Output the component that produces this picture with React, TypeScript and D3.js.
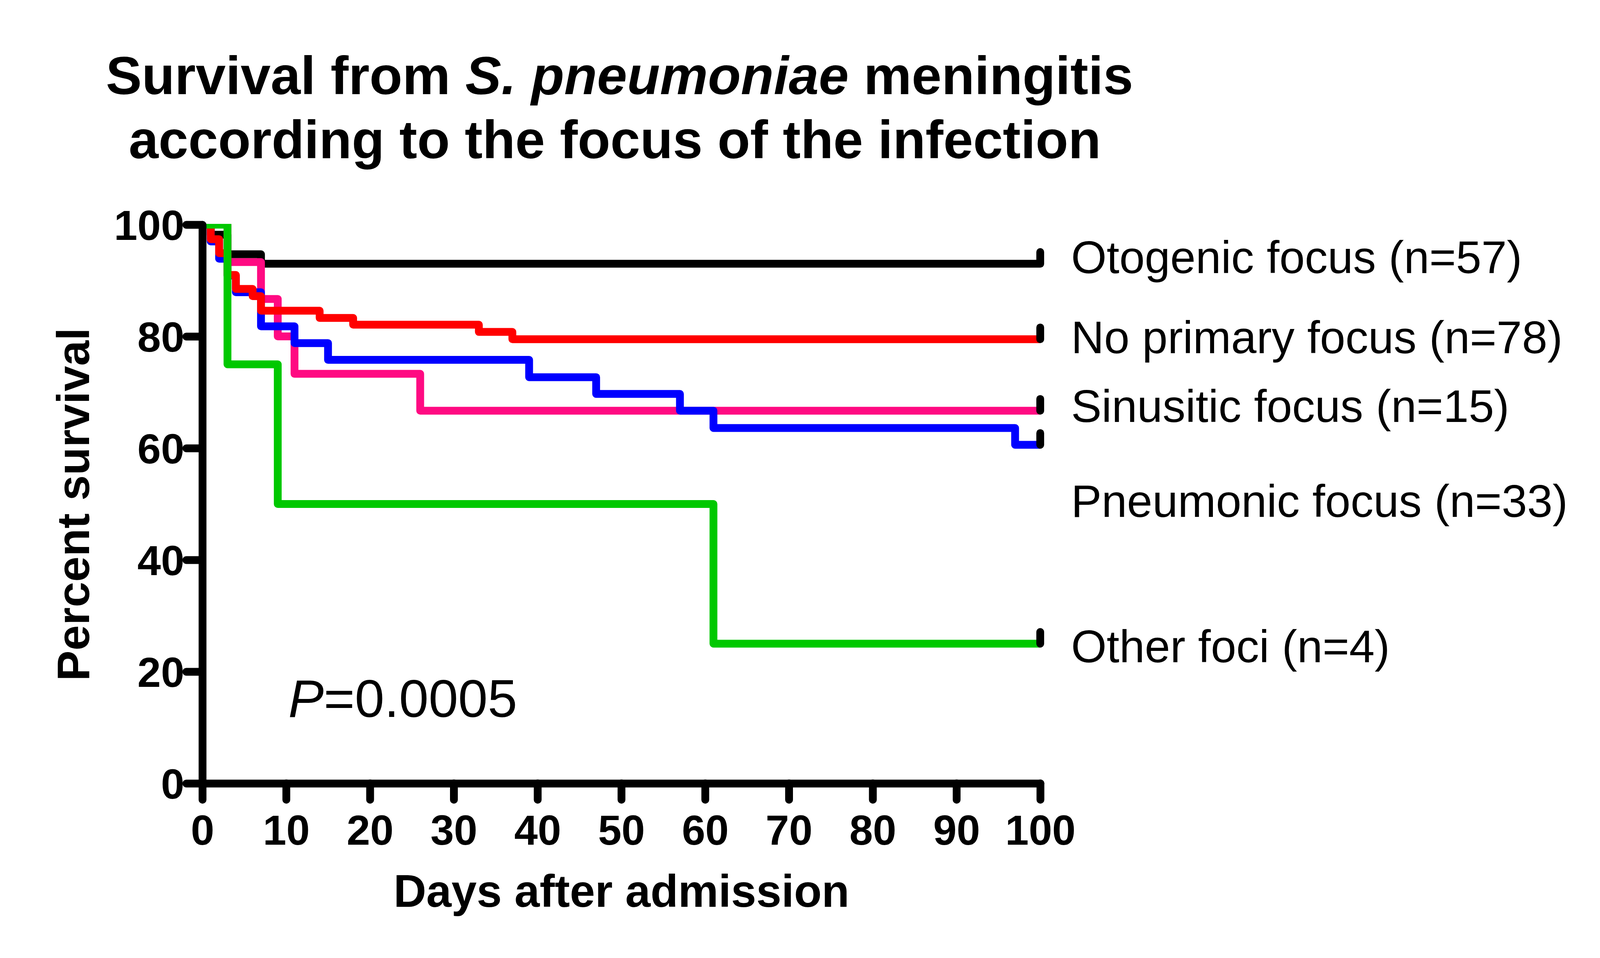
import { useRef, useEffect } from "react";
import * as d3 from "d3";

const WIDTH = 4141;
const HEIGHT = 2452;
const PLOT = { left: 518, right: 2663, top: 575, bottom: 2005 };
const FONT = "'Liberation Sans', Arial, Helvetica, sans-serif";
const LINE_W = 20;

// Kaplan-Meier steps: day of each drop and the survival (%) after it
const otogenicDays = [0, 1, 3, 7];
const otogenicSurvival = [100, 98.2, 94.7, 93.0];

const noFocusDays = [0, 1, 2, 3, 4, 6, 7, 14, 18, 33, 37];
const noFocusSurvival = [100, 97.4, 94.9, 91.0, 88.5, 87.2, 84.6, 83.3, 82.1, 80.8, 79.5];

const sinusiticDays = [0, 3, 7, 9, 11, 26];
const sinusiticSurvival = [100, 93.3, 86.7, 80.0, 73.3, 66.7];

const pneumonicDays = [0, 1, 2, 3, 4, 7, 11, 15, 39, 47, 57, 61, 97];
const pneumonicSurvival = [100, 97.0, 93.9, 90.9, 87.9, 81.8, 78.8, 75.8, 72.7, 69.7, 66.7, 63.6, 60.6];

const otherDays = [0, 3, 9, 61];
const otherSurvival = [100, 75, 50, 25];

const END_DAY = 100;

const labels = [
  "Otogenic focus (n=57)",
  "No primary focus (n=78)",
  "Sinusitic focus (n=15)",
  "Pneumonic focus (n=33)",
  "Other foci (n=4)",
];

const xTicks = [0, 10, 20, 30, 40, 50, 60, 70, 80, 90, 100];
const yTicks = [0, 20, 40, 60, 80, 100];

// vertical placement of the right-hand labels, in survival units
const LABEL_LEVELS = [94.3, 79.9, 67.6, 50.6, 24.6];

export default function App() {
  const svgRef = useRef<SVGSVGElement>(null);

  useEffect(() => {
    if (!svgRef.current) return;
    document.body.style.margin = "0";

    const svg = d3.select(svgRef.current);
    svg.selectAll("*").remove();

    const x = d3.scaleLinear().domain([0, 100]).range([PLOT.left, PLOT.right]);
    const y = d3.scaleLinear().domain([0, 100]).range([PLOT.bottom, PLOT.top]);

    // curves are clipped at the 100% line, like the original
    svg
      .append("defs")
      .append("clipPath")
      .attr("id", "plot-clip")
      .append("rect")
      .attr("x", PLOT.left - 30)
      .attr("y", y(100) - 2)
      .attr("width", PLOT.right - PLOT.left + 60)
      .attr("height", PLOT.bottom - PLOT.top + 40);

    // drawing order: black, pink, blue, red, green on top
    const curves = [
      { days: otogenicDays, surv: otogenicSurvival, color: "#000000" },
      { days: sinusiticDays, surv: sinusiticSurvival, color: "#FF0A82" },
      { days: pneumonicDays, surv: pneumonicSurvival, color: "#0000FF" },
      { days: noFocusDays, surv: noFocusSurvival, color: "#FF0000" },
      { days: otherDays, surv: otherSurvival, color: "#00C800" },
    ];

    const line = d3
      .line<[number, number]>()
      .x((d) => x(d[0]))
      .y((d) => y(d[1]))
      .curve(d3.curveStepAfter);

    const curveG = svg.append("g").attr("clip-path", "url(#plot-clip)");
    for (const c of curves) {
      const pts: [number, number][] = c.days.map((d, i) => [d, c.surv[i]]);
      pts.push([END_DAY, c.surv[c.surv.length - 1]]);
      curveG
        .append("path")
        .attr("d", line(pts))
        .attr("fill", "none")
        .attr("stroke", c.color)
        .attr("stroke-width", LINE_W)
        .attr("stroke-linejoin", "round");
    }

    // censor ticks at the end of follow-up
    for (const c of curves) {
      const last = c.surv[c.surv.length - 1];
      svg
        .append("line")
        .attr("x1", x(END_DAY))
        .attr("x2", x(END_DAY))
        .attr("y1", y(last))
        .attr("y2", y(last) - 30)
        .attr("stroke", "#000")
        .attr("stroke-width", LINE_W)
        .attr("stroke-linecap", "round");
    }

    // Axes
    const yAxis = svg
      .append("g")
      .attr("transform", `translate(${PLOT.left},0)`)
      .call(d3.axisLeft(y).tickValues(yTicks).tickSize(41).tickSizeOuter(0).tickPadding(5));
    const xAxis = svg
      .append("g")
      .attr("transform", `translate(0,${PLOT.bottom})`)
      .call(d3.axisBottom(x).tickValues(xTicks).tickSize(42).tickSizeOuter(0).tickPadding(38));

    for (const ax of [yAxis, xAxis]) {
      ax.attr("font-family", FONT).attr("font-size", 108).attr("font-weight", "bold").attr("color", "#000");
      ax.select(".domain").attr("stroke-width", LINE_W).attr("stroke-linecap", "round");
      ax.selectAll(".tick line").attr("stroke-width", LINE_W).attr("stroke-linecap", "round");
      ax.selectAll(".tick text").attr("fill", "#000");
    }
    yAxis.selectAll(".tick text").attr("dy", "0.36em");

    // Title
    const title1 = svg
      .append("text")
      .attr("x", 1586)
      .attr("y", 241)
      .attr("text-anchor", "middle")
      .attr("font-family", FONT)
      .attr("font-weight", "bold")
      .attr("font-size", 138)
      .style("white-space", "pre");
    title1.append("tspan").text("Survival from ");
    title1.append("tspan").attr("font-style", "italic").text("S. pneumoniae");
    title1.append("tspan").text(" meningitis");

    svg
      .append("text")
      .attr("x", 1574)
      .attr("y", 405)
      .attr("text-anchor", "middle")
      .attr("font-family", FONT)
      .attr("font-weight", "bold")
      .attr("font-size", 137)
      .text("according to the focus of the infection");

    // Axis titles
    svg
      .append("text")
      .attr("transform", `translate(228,1291) rotate(-90)`)
      .attr("text-anchor", "middle")
      .attr("font-family", FONT)
      .attr("font-weight", "bold")
      .attr("font-size", 117)
      .text("Percent survival");

    svg
      .append("text")
      .attr("x", 1591)
      .attr("y", 2321)
      .attr("text-anchor", "middle")
      .attr("font-family", FONT)
      .attr("font-weight", "bold")
      .attr("font-size", 116)
      .text("Days after admission");

    // Series labels
    labels.forEach((lab, i) => {
      svg
        .append("text")
        .attr("x", 2742)
        .attr("y", y(LABEL_LEVELS[i]) + 42)
        .attr("font-family", FONT)
        .attr("font-size", 117)
        .text(lab);
    });

    // P value
    const p = svg
      .append("text")
      .attr("x", 738)
      .attr("y", 1835)
      .attr("font-family", FONT)
      .attr("font-size", 136);
    p.append("tspan").attr("font-style", "italic").text("P");
    p.append("tspan").text("=0.0005");
  }, []);

  return (
    <svg
      ref={svgRef}
      width={WIDTH}
      height={HEIGHT}
      viewBox={`0 0 ${WIDTH} ${HEIGHT}`}
      style={{ display: "block", background: "#fff" }}
    />
  );
}
